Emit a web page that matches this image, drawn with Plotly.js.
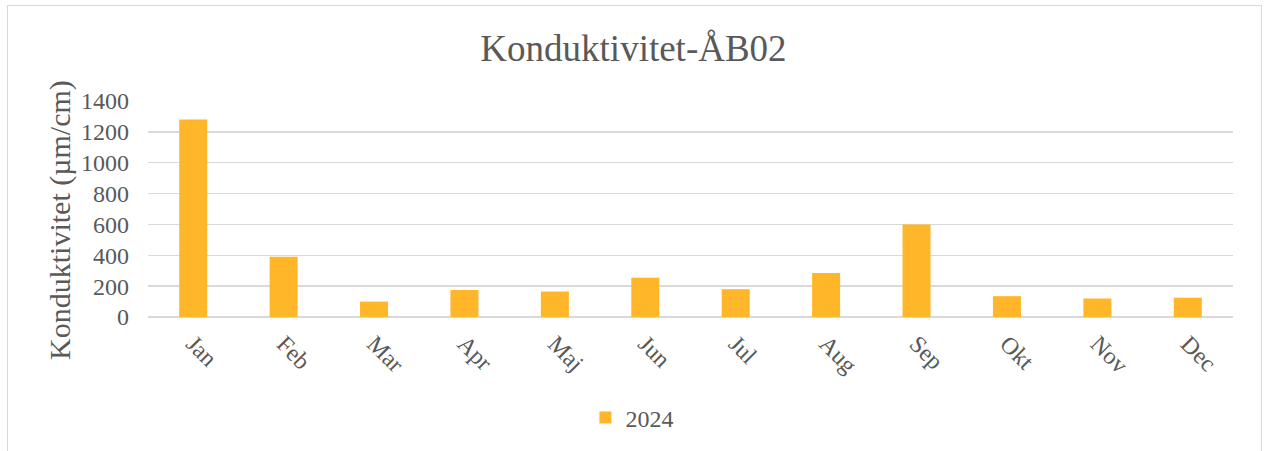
<!DOCTYPE html>
<html>
<head>
<meta charset="utf-8">
<script src="https://cdn.plot.ly/plotly-3.0.1.min.js"></script>
<style>
html,body{margin:0;padding:0;background:#fff;}
#wrap{position:relative;width:1267px;height:451px;}
#chart{width:1267px;height:451px;}
#frame{position:absolute;left:7px;top:5px;width:1253px;height:460px;border:1px solid #d9d9d9;pointer-events:none;}
</style>
</head>
<body>
<div id="wrap"><div id="chart"></div><div id="frame"></div></div>
<script>
const months = ["Jan","Feb","Mar","Apr","Maj","Jun","Jul","Aug","Sep","Okt","Nov","Dec"];
const values2024 = [1280, 390, 100, 175, 165, 255, 180, 285, 600, 135, 120, 125];
const seriesName = "2024";
const yTicks = [0,200,400,600,800,1000,1200,1400];
const yTitle = "Konduktivitet (µm/cm)";

const font = "Liberation Serif, Times New Roman, serif";
Plotly.newPlot("chart", [{
  type: "bar",
  x: months,
  y: values2024,
  name: seriesName,
  marker: {color: "#ffb629"},
  showlegend: true
}], {
  width: 1267, height: 451,
  margin: {l: 148, r: 34, t: 101, b: 133},
  paper_bgcolor: "#fff", plot_bgcolor: "#fff",
  title: {text: "Konduktivitet-ÅB02", font: {family: font, size: 37, color: "#595959"}, x: 0.5, xanchor: "center", y: 0.893, yanchor: "middle"},
  bargap: 0.69,
  xaxis: {automargin: false, tickangle: 45, tickfont: {family: font, size: 24, color: "#595959"}, showline: false, ticks: "", showgrid: false, ticklabelstandoff: 7},
  yaxis: {automargin: false, range: [0, 1400], tickvals: yTicks, ticktext: yTicks.map(String), showgrid: true, gridcolor: "#d9d9d9", gridwidth: 1.5, zeroline: true, zerolinecolor: "#d9d9d9", zerolinewidth: 1.5,
    tickfont: {family: font, size: 24, color: "#595959"}, ticks: "", ticklen: 0, ticklabelstandoff: 18},
  annotations: [{text: yTitle, textangle: -90, xref: "paper", yref: "paper", x: -0.081, y: 0.45, xanchor: "center", yanchor: "middle", showarrow: false, font: {family: font, size: 30, color: "#595959"}}],
  legend: {orientation: "h", x: 0.446, xanchor: "center", y: -0.46, yanchor: "middle", font: {family: font, size: 24, color: "#595959"}, itemwidth: 30, itemsizing: "constant"},
  showlegend: true
}, {displayModeBar: false, staticPlot: true});
</script>
</body>
</html>
